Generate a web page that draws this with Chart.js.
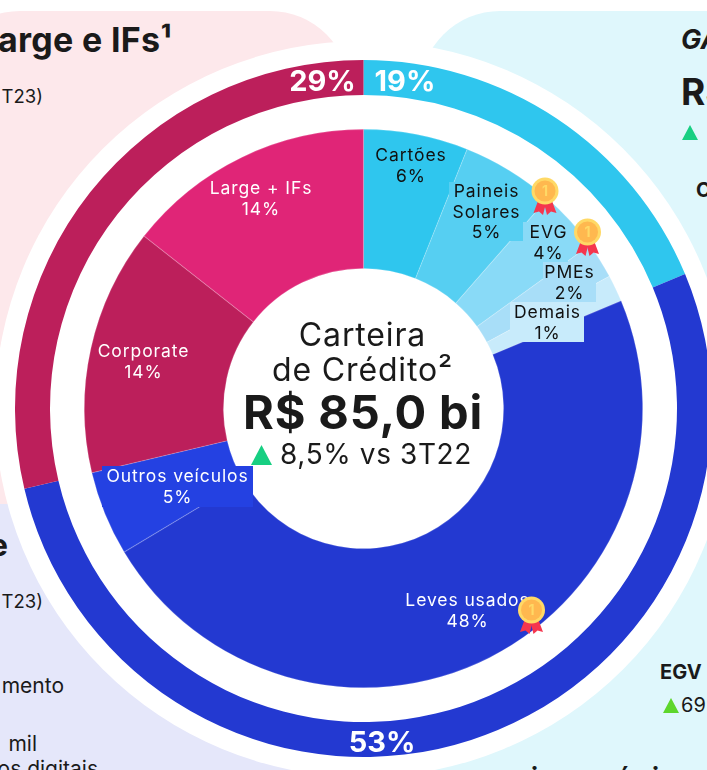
<!DOCTYPE html>
<html>
<head>
<meta charset="utf-8">
<title>Carteira de Crédito</title>
<script src="https://cdn.jsdelivr.net/npm/chart.js@4"></script>
<style>
  html, body { margin: 0; padding: 0; background: #fff; }
  #page { position: relative; width: 707px; height: 770px; overflow: hidden; font-family: Inter, sans-serif; color: #1a1a1a; }
  .panel { position: absolute; }
  #pink { left: -60px; top: 11px; width: 410px; height: 520px; background: #fde8eb; border-radius: 80px; }
  #lilac { left: -60px; top: 504px; width: 420px; height: 320px; background: #e5e7fa; }
  #aqua { left: 420px; top: 11px; width: 340px; height: 820px; background: #dff7fc; border-radius: 80px 0 0 0; }
  #ring { position: absolute; left: -5px; top: 41px; width: 736px; height: 736px; border-radius: 50%; background: #fff; }
  .t { position: absolute; white-space: nowrap; line-height: 1; }
  .b { font-weight: 700; }
  .tri { position: absolute; width: 0; height: 0; border-left: 8px solid transparent; border-right: 8px solid transparent; }
  canvas { position: absolute; left: 15px; top: 60px; }
</style>
</head>
<body>
<div id="page">
  <div class="panel" id="pink"></div>
  <div class="panel" id="lilac"></div>
  <div class="panel" id="aqua"></div>

  <div class="t b" style="right:535px;top:23px;font-size:34px;letter-spacing:.3px">Large e IFs¹</div>
  <div class="t" style="right:664px;top:87px;font-size:18.5px">T23)</div>
  <div class="t b" style="right:699px;top:529px;font-size:31px">e</div>
  <div class="t" style="right:664px;top:592px;font-size:18.5px">T23)</div>
  <div class="t" style="right:643px;top:675px;font-size:21px">mento</div>
  <div class="t" style="right:670px;top:733px;font-size:21px">mil</div>
  <div class="t" style="right:609px;top:758px;font-size:21px">os digitais</div>

  <div class="t b" style="left:681px;top:26px;font-size:27px;font-style:italic">GA</div>
  <div class="t b" style="left:681px;top:73px;font-size:37px">R$</div>
  <div class="tri" style="left:682px;top:125px;border-bottom:15px solid #17cf82"></div>
  <div class="t b" style="left:696px;top:180px;font-size:20px">C</div>
  <div class="t b" style="left:660px;top:662px;font-size:20px">EGV</div>
  <div class="tri" style="left:663px;top:698px;border-bottom:15px solid #5dd62c"></div>
  <div class="t" style="left:681px;top:695px;font-size:20px">69</div>
  <div class="t b" style="left:531px;top:765px;font-size:26px">i</div>
  <div class="t b" style="left:616px;top:765px;font-size:26px">é</div>
  <div class="t b" style="left:652px;top:765px;font-size:26px">i</div>

  <div id="ring"></div>
  <canvas id="carteiraChart" width="697" height="697"></canvas>
</div>

<script>
// fatias internas, % da carteira (sentido horario a partir do topo)
const sliceNames = ['Cartões', 'Paineis Solares', 'EVG', 'PMEs', 'Demais', 'Leves usados', 'Outros veículos', 'Corporate', 'Large + IFs'];
const sliceValues = [6.05, 5.4, 3.6, 2.1, 1.55, 47.7, 4.9, 14.3, 14.4];
const sliceLabels = ['6%', '5%', '4%', '2%', '1%', '48%', '5%', '14%', '14%'];
const sliceColors = ['#2fc6ee', '#56cff2', '#89daf7', '#a8def8', '#c8ebfb', '#2339d1', '#2441e2', '#bc1f5b', '#e02577'];

// anel externo
const groupValues = [18.7, 52.6, 28.7];
const groupLabels = ['19%', '53%', '29%'];
const groupColors = ['#2fc6ee', '#2339d1', '#bc1f5b'];

// posicoes ajustadas a mao, coordenadas da pagina
const sliceLayout = [
  { x: 411, y: 156, color: '#111' },
  { x: 486.5, y: 192, color: '#111', lines: ['Paineis', 'Solares'], box: [449, 182, 74, 59] },
  { x: 548.5, y: 233, color: '#111', box: [523, 222, 45, 40] },
  { x: 569.5, y: 273, color: '#111', box: [543, 262, 53, 40] },
  { x: 547.5, y: 313, color: '#111', box: [510, 302, 74, 40] },
  { x: 467.5, y: 601, color: '#fff' },
  { x: 177.5, y: 477, color: '#fff', box: [102, 466, 151, 41] },
  { x: 143.5, y: 352, color: '#fff' },
  { x: 261, y: 189, color: '#fff' }
];
const groupLayout = [[405, 82], [382, 743], [322.5, 82]];
const medals = [[545, 191], [587.5, 232], [531.5, 610]];

function drawMedal(ctx, x, y) {
  ctx.fillStyle = '#f5364e';
  ctx.beginPath();
  ctx.moveTo(x - 7, y + 10); ctx.lineTo(x - 11.5, y + 22); ctx.lineTo(x - 6, y + 20.5); ctx.lineTo(x - 2, y + 24); ctx.lineTo(x + 1, y + 12);
  ctx.closePath(); ctx.fill();
  ctx.beginPath();
  ctx.moveTo(x + 7, y + 10); ctx.lineTo(x + 11.5, y + 22); ctx.lineTo(x + 6, y + 20.5); ctx.lineTo(x + 2, y + 24); ctx.lineTo(x - 1, y + 12);
  ctx.closePath(); ctx.fill();
  ctx.fillStyle = '#ffd966';
  ctx.beginPath(); ctx.arc(x, y, 13.5, 0, Math.PI * 2); ctx.fill();
  ctx.fillStyle = '#ffb84f';
  ctx.beginPath(); ctx.arc(x, y, 10.5, 0, Math.PI * 2); ctx.fill();
  ctx.fillStyle = '#ffd966';
  ctx.font = '700 14px Inter';
  ctx.textAlign = 'center';
  ctx.fillText('1', x, y + 0.5);
}

const labelsPlugin = {
  id: 'labelsPlugin',
  afterDraw(chart) {
    const ctx = chart.ctx;
    ctx.save();
    ctx.translate(-15, -60);
    ctx.textAlign = 'center';
    ctx.textBaseline = 'middle';

    // rotulos do anel externo
    ctx.fillStyle = '#fff';
    ctx.font = '700 29px Inter';
    groupLabels.forEach((txt, i) => ctx.fillText(txt, groupLayout[i][0], groupLayout[i][1]));

    // caixas atras dos rotulos das fatias
    sliceLayout.forEach((l, i) => {
      if (l.box) {
        ctx.fillStyle = sliceColors[i];
        ctx.fillRect(l.box[0], l.box[1], l.box[2], l.box[3]);
      }
    });

    ctx.font = '400 17.5px Inter';
    ctx.letterSpacing = '0.9px';
    sliceNames.forEach((name, i) => {
      const l = sliceLayout[i];
      const lines = (l.lines || [name]).concat(sliceLabels[i]);
      ctx.fillStyle = l.color;
      lines.forEach((txt, n) => ctx.fillText(txt, l.x, l.y + n * 20.3));
    });
    ctx.letterSpacing = '0px';

    medals.forEach(m => drawMedal(ctx, m[0], m[1]));

    // centro
    ctx.textAlign = 'center';
    ctx.textBaseline = 'middle';
    ctx.fillStyle = '#1a1a1a';
    ctx.font = '400 32px Inter';
    ctx.letterSpacing = '0.85px';
    ctx.fillText('Carteira', 362.5, 336);
    ctx.fillText('de Crédito²', 362.5, 371);
    ctx.font = '700 47px Inter';
    ctx.letterSpacing = '0.8px';
    ctx.fillText('R$ 85,0 bi', 363, 415);
    ctx.font = '400 28px Inter';
    ctx.letterSpacing = '0.6px';
    ctx.fillText('8,5% vs 3T22', 376, 456);
    ctx.letterSpacing = '0px';
    ctx.fillStyle = '#17cf82';
    ctx.beginPath();
    ctx.moveTo(261.5, 445); ctx.lineTo(272, 465); ctx.lineTo(251, 465);
    ctx.closePath(); ctx.fill();
    ctx.restore();
  }
};

new Chart(document.getElementById('carteiraChart').getContext('2d'), {
  type: 'doughnut',
  data: {
    // o primeiro dataset fica no anel de fora
    datasets: [
      { data: groupValues, backgroundColor: groupColors, borderWidth: 0, weight: 35 },
      { data: [1], backgroundColor: 'transparent', borderWidth: 0, weight: 34 }, // vao branco entre os aneis
      { data: sliceValues, backgroundColor: sliceColors, borderColor: 'rgba(255,255,255,0.18)', borderWidth: 0.6, borderAlign: 'inner', weight: 139.8 }
    ]
  },
  options: {
    responsive: false,
    animation: false,
    cutout: 139.7,
    layout: { padding: 0 },
    events: [],
    plugins: { legend: { display: false }, tooltip: { enabled: false } }
  },
  plugins: [labelsPlugin]
});
</script>
</body>
</html>
